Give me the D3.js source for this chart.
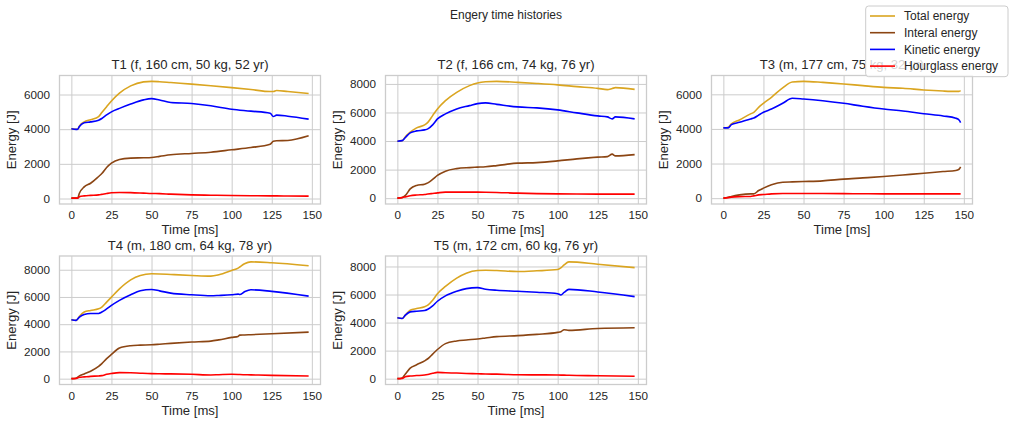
<!DOCTYPE html>
<html>
<head>
<meta charset="utf-8">
<script src="https://cdn.jsdelivr.net/npm/d3@7/dist/d3.min.js"></script>
<style>
body { margin: 0; background: #fff; }
svg text { font-family: "Liberation Sans", Arial, sans-serif; fill: #262626; }
</style>
</head>
<body>
<div id="graph"></div>
<script>
// values [ms] / [J]
const t1Time      = [0, 3, 4, 5, 8, 12, 17, 19, 22, 25, 30, 37, 45, 50, 55, 62, 75, 87, 100, 112, 124, 126, 128, 135, 148];
const t1Total     = [4020, 4000, 4000, 4180, 4420, 4550, 4730, 4960, 5300, 5630, 6080, 6500, 6730, 6760, 6740, 6690, 6600, 6510, 6400, 6290, 6170, 6170, 6230, 6170, 6060];
const t1Internal  = [20, 20, 40, 300, 670, 880, 1270, 1440, 1790, 2040, 2250, 2330, 2350, 2370, 2430, 2520, 2600, 2670, 2810, 2940, 3130, 3300, 3330, 3350, 3620];
const t1Kinetic   = [4020, 3990, 4000, 4150, 4370, 4420, 4520, 4615, 4820, 5000, 5200, 5450, 5690, 5760, 5680, 5540, 5480, 5350, 5150, 5040, 4920, 4730, 4810, 4750, 4580];
const t1Hourglass = [20, 20, 20, 100, 150, 180, 210, 240, 290, 330, 350, 340, 310, 290, 280, 250, 210, 190, 170, 160, 150, 150, 150, 145, 140];

const t2Time      = [0, 3, 5, 8, 12, 17, 19, 22, 25, 30, 37, 45, 50, 55, 62, 75, 87, 100, 112, 125, 131, 134, 136, 148];
const t2Total     = [3990, 4030, 4300, 4620, 4920, 5130, 5310, 5780, 6250, 6830, 7410, 7880, 8070, 8150, 8180, 8110, 8030, 7930, 7810, 7690, 7600, 7680, 7740, 7620];
const t2Internal  = [0, 50, 190, 650, 890, 980, 1070, 1310, 1590, 1890, 2070, 2140, 2170, 2200, 2280, 2450, 2490, 2610, 2750, 2870, 2910, 3080, 2960, 3050];
const t2Kinetic   = [3990, 4030, 4250, 4570, 4710, 4780, 4850, 5130, 5550, 5900, 6250, 6480, 6620, 6670, 6570, 6390, 6320, 6180, 5970, 5760, 5690, 5550, 5690, 5550];
const t2Hourglass = [0, 40, 90, 170, 220, 260, 290, 330, 370, 420, 420, 420, 420, 415, 400, 350, 320, 300, 290, 280, 280, 280, 280, 280];

const t3Time      = [0, 3, 5, 10, 17, 19, 22, 25, 30, 37, 43, 50, 62, 75, 87, 100, 112, 125, 137, 145, 147, 148];
const t3Total     = [4060, 4100, 4290, 4520, 4870, 4960, 5250, 5480, 5830, 6370, 6710, 6750, 6690, 6600, 6500, 6400, 6350, 6250, 6190, 6170, 6170, 6210];
const t3Internal  = [0, 50, 100, 190, 250, 250, 440, 580, 770, 920, 940, 960, 1000, 1100, 1170, 1250, 1340, 1440, 1540, 1600, 1670, 1810];
const t3Kinetic   = [4060, 4060, 4250, 4380, 4580, 4630, 4800, 4960, 5150, 5480, 5770, 5730, 5630, 5480, 5310, 5150, 5040, 4880, 4750, 4620, 4520, 4370];
const t3Hourglass = [0, 30, 60, 90, 100, 130, 190, 210, 250, 270, 270, 270, 265, 260, 255, 250, 250, 250, 250, 250, 250, 250];

const t4Time      = [0, 3, 5, 8, 12, 17, 19, 22, 25, 30, 37, 43, 50, 55, 62, 75, 87, 92, 100, 104, 105, 108, 112, 125, 148];
const t4Total     = [4330, 4280, 4570, 4890, 5010, 5130, 5260, 5620, 5990, 6600, 7260, 7580, 7700, 7690, 7650, 7580, 7530, 7630, 7950, 8120, 8200, 8440, 8580, 8510, 8290];
const t4Internal  = [0, 30, 200, 350, 550, 900, 1100, 1470, 1780, 2250, 2420, 2460, 2490, 2530, 2590, 2690, 2760, 2850, 3030, 3100, 3200, 3210, 3230, 3300, 3420];
const t4Kinetic   = [4330, 4280, 4520, 4720, 4790, 4790, 4890, 5120, 5380, 5750, 6160, 6450, 6550, 6450, 6280, 6160, 6090, 6110, 6160, 6210, 6180, 6380, 6530, 6410, 6060];
const t4Hourglass = [0, 20, 100, 130, 170, 200, 220, 320, 380, 440, 430, 400, 370, 360, 350, 320, 270, 290, 320, 310, 300, 290, 280, 240, 200];

const t5Time      = [0, 3, 5, 8, 12, 17, 19, 22, 25, 30, 37, 43, 50, 55, 62, 75, 87, 100, 102, 104, 107, 125, 148];
const t5Total     = [4340, 4290, 4530, 4880, 5000, 5120, 5240, 5590, 6060, 6580, 7170, 7520, 7710, 7730, 7710, 7640, 7690, 7780, 7900, 8110, 8330, 8160, 7920];
const t5Internal  = [0, 50, 330, 750, 990, 1270, 1420, 1750, 2080, 2500, 2690, 2760, 2830, 2900, 3000, 3070, 3160, 3300, 3350, 3490, 3440, 3580, 3630];
const t5Kinetic   = [4340, 4290, 4530, 4760, 4810, 4860, 4950, 5190, 5520, 5900, 6230, 6420, 6490, 6380, 6300, 6230, 6160, 6060, 5970, 6150, 6370, 6180, 5850];
const t5Hourglass = [0, 20, 140, 190, 220, 260, 300, 380, 450, 420, 400, 370, 350, 330, 320, 280, 270, 260, 255, 250, 240, 210, 170];

const trialTitles = ["T1 (f, 160 cm, 50 kg, 52 yr)", "T2 (f, 166 cm, 74 kg, 76 yr)", "T3 (m, 177 cm, 75 kg, 32 yr)",
                     "T4 (m, 180 cm, 64 kg, 78 yr)", "T5 (m, 172 cm, 60 kg, 76 yr)"];
const seriesNames = ["Total energy", "Interal energy", "Kinetic energy", "Hourglass energy"];
const seriesColors = ["#daa520", "#8b4513", "#0000ff", "#ff0000"];
const xTicks = [0, 25, 50, 75, 100, 125, 150];

const trials = [
    {time: t1Time, series: [t1Total, t1Internal, t1Kinetic, t1Hourglass]},
    {time: t2Time, series: [t2Total, t2Internal, t2Kinetic, t2Hourglass]},
    {time: t3Time, series: [t3Total, t3Internal, t3Kinetic, t3Hourglass]},
    {time: t4Time, series: [t4Total, t4Internal, t4Kinetic, t4Hourglass]},
    {time: t5Time, series: [t5Total, t5Internal, t5Kinetic, t5Hourglass]},
];

const W = 1012, H = 426;
const colLeft = [59.5, 385.5, 711.5],
      rowTop = [75.5, 256],
      axW = 261, axH = 128.5;

var svg = d3.select('#graph').append('svg')
    .attr('width', W)
    .attr('height', H);

svg.append('text')
    .attr('x', W / 2).attr('y', 18.5)
    .attr('text-anchor', 'middle')
    .style('font-size', '12px')
    .text('Engery time histories');

trials.forEach(function(tr, i) {
    var left = colLeft[i % 3], top = rowTop[Math.floor(i / 3)];
    var all = d3.merge(tr.series);
    // matplotlib-like 5% margins
    var xMin = d3.min(tr.time), xMax = d3.max(tr.time);
    var yMin = d3.min(all), yMax = d3.max(all);
    var xPad = (xMax - xMin) * 0.05, yPad = (yMax - yMin) * 0.05;

    var x = d3.scaleLinear().domain([xMin - xPad, xMax + xPad]).range([left, left + axW]);
    var y = d3.scaleLinear().domain([yMin - yPad, yMax + yPad]).range([top + axH, top]);

    var g = svg.append('g');

    // grid + tick labels
    var gx = g.append('g')
        .attr('transform', 'translate(0,' + (top + axH) + ')')
        .call(d3.axisBottom(x).tickValues(xTicks).tickSize(-axH).tickPadding(7));
    var gy = g.append('g')
        .attr('transform', 'translate(' + left + ',0)')
        .call(d3.axisLeft(y).ticks(5).tickFormat(d3.format('d')).tickSize(-axW).tickPadding(9.5));
    [gx, gy].forEach(function(a) {
        a.select('.domain').remove();
        a.selectAll('.tick line').attr('stroke', '#cccccc').attr('stroke-width', 1);
        a.selectAll('.tick text').style('font-size', '11.7px').attr('fill', '#262626')
            .style('font-family', '"Liberation Sans", Arial, sans-serif');
    });

    var line = d3.line()
        .x(function(d, k) { return x(tr.time[k]); })
        .y(function(d) { return y(d); })
        .curve(d3.curveMonotoneX);

    tr.series.forEach(function(s, j) {
        g.append('path')
            .datum(s)
            .attr('d', line)
            .attr('fill', 'none')
            .attr('stroke', seriesColors[j])
            .attr('stroke-width', 1.6)
            .attr('stroke-linejoin', 'round');
    });

    g.append('rect')
        .attr('x', left).attr('y', top)
        .attr('width', axW).attr('height', axH)
        .attr('fill', 'none')
        .attr('stroke', '#cccccc')
        .attr('stroke-width', 1.3);

    g.append('text')
        .attr('x', left + axW / 2).attr('y', top - 6.5)
        .attr('text-anchor', 'middle')
        .style('font-size', '13.1px')
        .text(trialTitles[i]);

    g.append('text')
        .attr('x', left + axW / 2).attr('y', top + axH + 30)
        .attr('text-anchor', 'middle')
        .style('font-size', '13.1px')
        .text('Time [ms]');

    g.append('text')
        .attr('transform', 'translate(' + (left - 44) + ',' + (top + axH / 2) + ') rotate(-90)')
        .attr('text-anchor', 'middle')
        .style('font-size', '13.1px')
        .text('Energy [J]');
});

// legend (figure level, on top)
var lg = svg.append('g');
lg.append('rect')
    .attr('x', 865.7).attr('y', 6)
    .attr('width', 142.3).attr('height', 70.7)
    .attr('rx', 3)
    .attr('fill', '#ffffff').attr('fill-opacity', 0.8)
    .attr('stroke', '#cccccc').attr('stroke-width', 1);
seriesNames.forEach(function(name, j) {
    var ly = 16 + j * 16.7;
    lg.append('line')
        .attr('x1', 870).attr('x2', 895)
        .attr('y1', ly).attr('y2', ly)
        .attr('stroke', seriesColors[j])
        .attr('stroke-width', 1.6);
    lg.append('text')
        .attr('x', 904).attr('y', ly)
        .attr('dy', '0.35em')
        .style('font-size', '12px')
        .text(name);
});
</script>
</body>
</html>
